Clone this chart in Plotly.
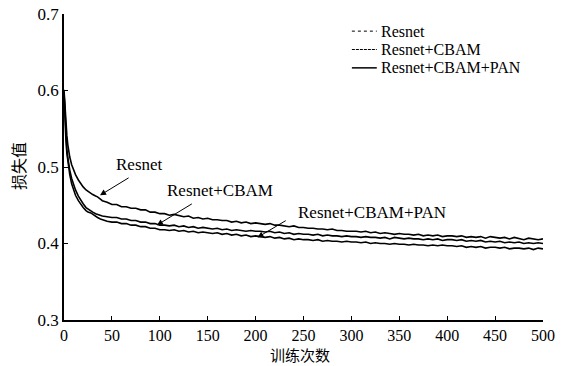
import plotly.graph_objects as go

EPOCHS = [0, 1, 2, 3, 4, 5, 6, 8, 10, 12, 15, 18, 20, 23, 25, 28, 30, 33, 35, 38, 40,
          45, 50, 55, 60, 65, 70, 75, 80, 85, 90, 95, 100,
          105, 110, 115, 120, 125, 130, 135, 140, 145, 150, 155, 160, 165, 170, 175, 180, 185, 190, 195, 200,
          205, 210, 215, 220, 225, 230, 235, 240, 245, 250, 255, 260, 265, 270, 275, 280, 285, 290, 295, 300,
          305, 310, 315, 320, 325, 330, 335, 340, 345, 350, 355, 360, 365, 370, 375, 380, 385, 390, 395, 400,
          405, 410, 415, 420, 425, 430, 435, 440, 445, 450, 455, 460, 465, 470, 475, 480, 485, 490, 495, 500]

RESNET = [0.601, 0.576, 0.556, 0.541, 0.529, 0.520, 0.513, 0.503, 0.496, 0.490, 0.483, 0.477, 0.474, 0.470, 0.468, 0.466, 0.464, 0.462, 0.461, 0.458, 0.456,
          0.454, 0.451, 0.451, 0.448, 0.448, 0.446, 0.446, 0.444, 0.444, 0.441, 0.441, 0.439,
          0.439, 0.437, 0.438, 0.436, 0.435, 0.436, 0.433, 0.434, 0.432, 0.433, 0.431, 0.431, 0.430, 0.430, 0.428, 0.429, 0.427, 0.428, 0.426, 0.427,
          0.426, 0.425, 0.426, 0.424, 0.424, 0.423, 0.422, 0.423, 0.421, 0.421, 0.420, 0.420, 0.419, 0.419, 0.418, 0.419, 0.417, 0.417, 0.416, 0.416,
          0.416, 0.415, 0.416, 0.414, 0.415, 0.413, 0.414, 0.413, 0.412, 0.413, 0.412, 0.412, 0.411, 0.412, 0.410, 0.411, 0.410, 0.411, 0.409, 0.410,
          0.410, 0.409, 0.410, 0.408, 0.409, 0.408, 0.409, 0.407, 0.409, 0.408, 0.407, 0.408, 0.406, 0.408, 0.407, 0.405, 0.407, 0.406, 0.405, 0.406]

CBAM = [0.598, 0.565, 0.540, 0.523, 0.512, 0.503, 0.496, 0.485, 0.477, 0.470, 0.462, 0.455, 0.452, 0.447, 0.445, 0.442, 0.441, 0.439, 0.438, 0.437, 0.436,
        0.435, 0.434, 0.434, 0.432, 0.432, 0.430, 0.430, 0.428, 0.428, 0.426, 0.426, 0.424,
        0.424, 0.423, 0.424, 0.422, 0.423, 0.421, 0.422, 0.420, 0.421, 0.420, 0.419, 0.420, 0.418, 0.419, 0.417, 0.418, 0.417, 0.416, 0.417, 0.416,
        0.416, 0.415, 0.416, 0.414, 0.415, 0.413, 0.414, 0.412, 0.413, 0.412, 0.412, 0.411, 0.412, 0.410, 0.411, 0.410, 0.410, 0.409, 0.410, 0.409,
        0.409, 0.408, 0.409, 0.408, 0.408, 0.407, 0.408, 0.406, 0.408, 0.407, 0.406, 0.407, 0.406, 0.406, 0.405, 0.406, 0.405, 0.406, 0.404, 0.405,
        0.405, 0.404, 0.405, 0.403, 0.404, 0.403, 0.404, 0.402, 0.403, 0.402, 0.403, 0.401, 0.402, 0.401, 0.402, 0.400, 0.401, 0.400, 0.401, 0.400]

PAN = [0.596, 0.560, 0.535, 0.518, 0.506, 0.498, 0.490, 0.478, 0.470, 0.463, 0.456, 0.450, 0.447, 0.443, 0.441, 0.440, 0.438, 0.436, 0.434, 0.432, 0.431,
       0.429, 0.428, 0.428, 0.426, 0.426, 0.424, 0.424, 0.422, 0.422, 0.420, 0.420, 0.418,
       0.418, 0.417, 0.418, 0.416, 0.417, 0.415, 0.416, 0.414, 0.415, 0.414, 0.413, 0.414, 0.412, 0.413, 0.411, 0.412, 0.410, 0.411, 0.409, 0.410,
       0.409, 0.408, 0.409, 0.407, 0.408, 0.406, 0.407, 0.405, 0.406, 0.405, 0.405, 0.404, 0.405, 0.403, 0.404, 0.403, 0.403, 0.402, 0.403, 0.402,
       0.402, 0.401, 0.402, 0.400, 0.401, 0.400, 0.400, 0.399, 0.400, 0.399, 0.399, 0.398, 0.399, 0.398, 0.398, 0.397, 0.398, 0.397, 0.398, 0.397,
       0.397, 0.396, 0.397, 0.395, 0.396, 0.395, 0.396, 0.394, 0.395, 0.395, 0.394, 0.395, 0.393, 0.394, 0.394, 0.393, 0.394, 0.392, 0.394, 0.393]

SERIES_NAMES = ["Resnet", "Resnet+CBAM", "Resnet+CBAM+PAN"]
LEGEND_DASH = ["dot", "3px,1px", "solid"]
LEGEND_WIDTH = [1.0, 1.2, 1.5]
X_TICKS = [0, 50, 100, 150, 200, 250, 300, 350, 400, 450, 500]
Y_TICKS = [0.3, 0.4, 0.5, 0.6, 0.7]
X_TITLE = "训练次数"
Y_TITLE = "损失值"

SERIF = "Liberation Serif, serif"
CJK = "Noto Sans CJK SC"

fig = go.Figure()
for name, ys in zip(SERIES_NAMES, [RESNET, CBAM, PAN]):
    fig.add_trace(go.Scatter(x=EPOCHS, y=ys, mode="lines", name=name, showlegend=False,
                             line=dict(color="black", width=1.6)))

# arrow annotations: (label, tip x, tip y, tail x, tail y, text x, text y)
ANNOTS = [
    ("Resnet", 37.6, 0.463, 69, 0.487, 79, 0.503),
    ("Resnet+CBAM", 97, 0.424, 135, 0.453, 163, 0.469),
    ("Resnet+CBAM+PAN", 202, 0.408, 233, 0.431, 322, 0.440),
]
for label, tx, ty, ax, ay, lx, ly in ANNOTS:
    fig.add_annotation(x=tx, y=ty, ax=ax, ay=ay, axref="x", ayref="y", xref="x", yref="y",
                       text="", showarrow=True, arrowhead=2, arrowsize=1.2, arrowwidth=1, arrowcolor="black")
    fig.add_annotation(x=lx, y=ly, xref="x", yref="y", text=label, showarrow=False,
                       font=dict(family=SERIF, size=17, color="black"))

# manual legend (compact rows like the reference)
LEG_ROWS_Y = [0.944, 0.884, 0.824]
for name, dash, w, ly in zip(SERIES_NAMES, LEGEND_DASH, LEGEND_WIDTH, LEG_ROWS_Y):
    fig.add_shape(type="line", xref="paper", yref="paper", x0=0.601, x1=0.653, y0=ly, y1=ly,
                  line=dict(color="black", width=w, dash=dash))
    fig.add_annotation(x=0.659, y=ly, xref="paper", yref="paper", xanchor="left", yanchor="middle",
                       text=name, showarrow=False, height=17, borderpad=0,
                       font=dict(family=SERIF, size=16, color="black"))

# axis titles
fig.add_annotation(x=0.493, y=-0.112, xref="paper", yref="paper", text=X_TITLE, showarrow=False,
                   xanchor="center", yanchor="middle", height=18, borderpad=0,
                   font=dict(family=CJK, size=15, color="black"))
fig.add_annotation(x=-0.096, y=0.503, xref="paper", yref="paper", text=Y_TITLE, showarrow=False,
                   textangle=-90, xanchor="center", yanchor="middle", font=dict(family=CJK, size=16, color="black"))

fig.update_layout(
    width=579, height=366,
    margin=dict(l=64, r=36, t=14, b=46),
    paper_bgcolor="white", plot_bgcolor="white",
    font=dict(family=SERIF, size=16, color="black"),
    showlegend=False,
)
fig.update_xaxes(range=[0, 500], tickvals=X_TICKS, ticks="inside", ticklen=4, tickcolor="black",
                 showline=True, linecolor="black", linewidth=1.5, showgrid=False, zeroline=False,
                 automargin=False, tickfont=dict(family=SERIF, size=16))
fig.update_yaxes(range=[0.3, 0.7], tickvals=Y_TICKS, tickformat=".1f", ticks="inside", ticklen=4, tickcolor="black",
                 showline=True, linecolor="black", linewidth=1.5, showgrid=False, zeroline=False,
                 automargin=False, tickfont=dict(family=SERIF, size=17))

fig.write_html("out.html", config={"displayModeBar": False},
               post_script="document.body.style.margin='0';")
